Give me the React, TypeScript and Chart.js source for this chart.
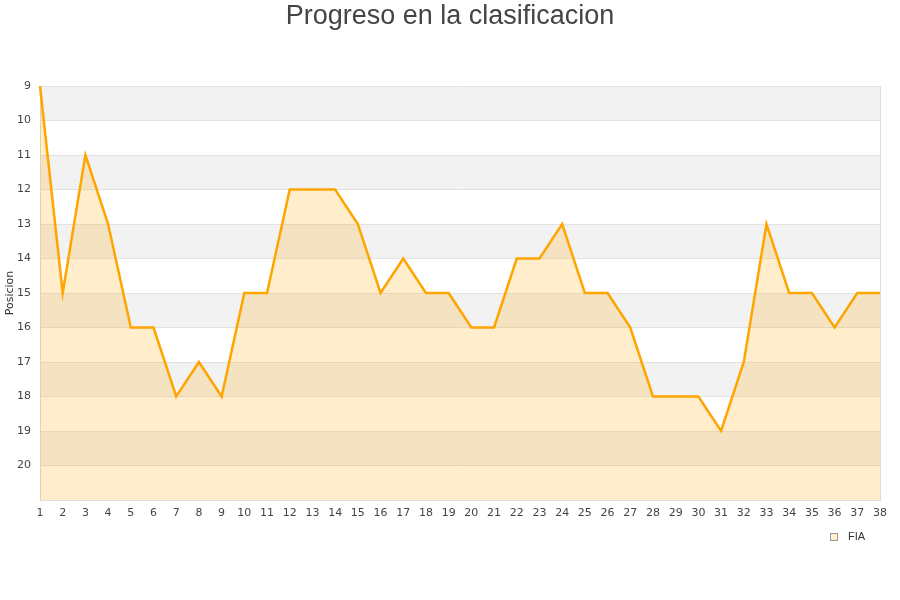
import React, { useEffect, useRef } from "react";
import { Chart, registerables } from "chart.js";

Chart.register(...registerables);

const jornadas: string[] = Array.from({ length: 38 }, (_, i) => String(i + 1));
const posiciones: number[] = [
  9, 15, 11, 13, 16, 16, 18, 17, 18, 15,
  15, 12, 12, 12, 13, 15, 14, 15, 15, 16,
  16, 14, 14, 13, 15, 15, 16, 18, 18, 18,
  19, 17, 13, 15, 15, 16, 15, 15,
];
const seriesName = "FIA";
const chartTitle = "Progreso en la clasificacion";
const yTitle = "Posicion";
const yMin = 9;
const yMax = 21;

const bandsPlugin = {
  id: "bands",
  beforeDraw(chart: any) {
    const { ctx, chartArea } = chart;
    const y = chart.scales.y;
    ctx.save();
    for (let v = yMin; v < yMax; v++) {
      if ((v - yMin) % 2 === 0) {
        const y1 = y.getPixelForValue(v);
        const y2 = y.getPixelForValue(v + 1);
        ctx.fillStyle = "#f2f2f2";
        ctx.fillRect(chartArea.left, Math.min(y1, y2), chartArea.right - chartArea.left, Math.abs(y2 - y1));
      }
    }
    ctx.restore();
  },
};

const legendPlugin = {
  id: "customLegend",
  afterDraw(chart: any) {
    const { ctx } = chart;
    const ds = chart.data.datasets[0];
    ctx.save();
    ctx.fillStyle = ds.backgroundColor;
    ctx.fillRect(830.5, 533.5, 7, 7);
    ctx.strokeStyle = "#999999";
    ctx.lineWidth = 1;
    ctx.strokeRect(830.5, 533.5, 7, 7);
    ctx.fillStyle = "#333333";
    ctx.font = "11px 'Liberation Sans', Arial, sans-serif";
    ctx.textBaseline = "middle";
    ctx.textAlign = "left";
    ctx.fillText(ds.label, 848, 537);
    ctx.restore();
  },
};

export default function App() {
  const ref = useRef<HTMLCanvasElement | null>(null);
  useEffect(() => {
    if (!ref.current) return;
    const chart = new Chart(ref.current, {
      type: "line",
      data: {
        labels: jornadas,
        datasets: [
          {
            label: seriesName,
            data: posiciones,
            borderColor: "#ffa500",
            backgroundColor: "rgba(255,165,0,0.2)",
            borderWidth: 2.5,
            fill: "start",
            tension: 0,
            pointRadius: 0,
            pointHoverRadius: 0,
          },
        ],
      },
      options: {
        animation: false,
        responsive: false,
        devicePixelRatio: 1,
        layout: { padding: { left: 0, right: 0, top: 0, bottom: 0 } },
        plugins: {
          legend: { display: false },
          tooltip: { enabled: false },
          title: {
            display: true,
            text: chartTitle,
            color: "#444444",
            font: { family: "'Liberation Sans', Arial, sans-serif", size: 27, weight: "normal" },
            padding: { top: 0, bottom: 53.6 },
          },
        },
        scales: {
          x: {
            type: "category",
            offset: false,
            grid: { display: false, drawTicks: false },
            border: { display: true, color: "#dddddd" },
            ticks: {
              color: "#444444",
              font: { family: "'DejaVu Sans', sans-serif", size: 11 },
              padding: 7,
              maxRotation: 0,
              autoSkip: false,
            },
            afterFit(scale: any) {
              scale.height = 100;
            },
          },
          y: {
            reverse: true,
            min: yMin,
            max: yMax,
            grid: { color: "#e2e2e2", drawTicks: false },
            border: { display: true, color: "#dddddd" },
            ticks: {
              stepSize: 1,
              color: "#444444",
              font: { family: "'DejaVu Sans', sans-serif", size: 11 },
              padding: 9,
              callback: (v: any) => (Number(v) === yMax ? "" : String(v)),
            },
            title: {
              display: true,
              text: yTitle,
              color: "#333333",
              font: { family: "'DejaVu Sans', sans-serif", size: 11 },
            },
            afterFit(scale: any) {
              scale.width = 40;
            },
          },
          yRight: {
            position: "right",
            display: true,
            grid: { display: false, drawTicks: false },
            border: { display: true, color: "#dddddd" },
            ticks: { display: false },
            afterFit(scale: any) {
              scale.width = 20;
            },
          },
        },
      },
      plugins: [bandsPlugin, legendPlugin],
    });
    return () => chart.destroy();
  }, []);
  return (
    <div style={{ position: "fixed", left: 0, top: 0, width: 900, height: 600, background: "#ffffff" }}>
      <canvas ref={ref} width={900} height={600} />
    </div>
  );
}
